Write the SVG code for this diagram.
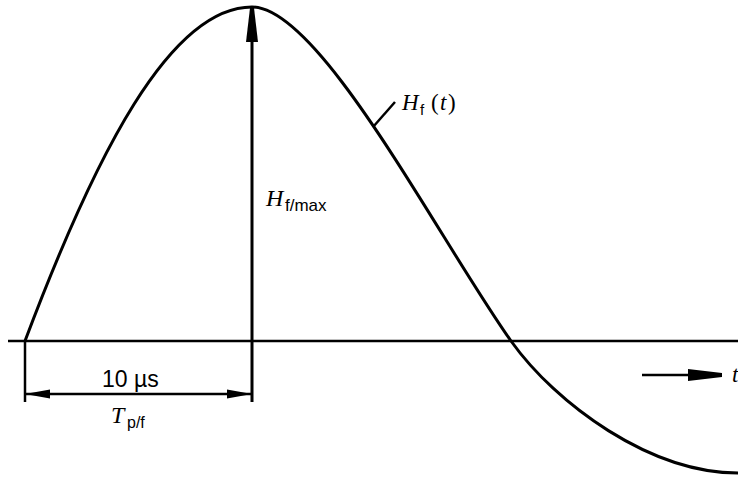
<svg xmlns="http://www.w3.org/2000/svg" width="738" height="480" viewBox="0 0 738 480">
<style>
  .ln { fill: none; stroke: #000; stroke-linecap: butt; }
  .it { font-family: "Liberation Serif", "Times New Roman", serif; font-style: italic; fill: #000; }
  .rm { font-family: "Liberation Serif", "Times New Roman", serif; fill: #000; }
  .sb { font-family: "Liberation Sans", Arial, sans-serif; fill: #000; }
</style>
<defs>
  <marker id="ah" markerUnits="userSpaceOnUse" markerWidth="26" markerHeight="12" refX="25" refY="6" orient="auto-start-reverse">
    <path d="M0,1.5 L25,6 L0,10.5 Z" fill="#000"/>
  </marker>
  <marker id="ah2" markerUnits="userSpaceOnUse" markerWidth="36" markerHeight="14" refX="34" refY="7" orient="auto">
    <path d="M0,1 L34,5 L34,9 L0,13 Z" fill="#000"/>
  </marker>
</defs>
<rect width="738" height="480" fill="#fff"/>
<g id="axis">
  <line class="ln" x1="8" y1="341" x2="738" y2="341" stroke-width="2.5"/>
</g>
<g id="curve">
  <path class="ln" stroke-width="3" d="M25,341 C95,155 170,7 252,7 C320,7 438,238 511,341 C556,404 650,473 738,473"/>
</g>
<g id="connectors">
  <line class="ln" x1="252" y1="402" x2="252" y2="8" stroke-width="3" marker-end="url(#ah2)"/>
  <line class="ln" x1="25" y1="341" x2="25" y2="402" stroke-width="2.5"/>
  <line class="ln" x1="25" y1="394" x2="252" y2="394" stroke-width="2.5" marker-start="url(#ah)" marker-end="url(#ah)"/>
  <line class="ln" x1="642" y1="375" x2="722" y2="375" stroke-width="2.5" marker-end="url(#ah2)"/>
  <line class="ln" x1="373" y1="127" x2="395" y2="102" stroke-width="2.5"/>
</g>
<g id="label-hft">
  <text x="402" y="110" class="it" font-size="23">H</text>
  <text x="420" y="115" class="sb" font-size="15">f</text>
  <text x="431" y="110" class="rm" font-size="23">(</text>
  <text x="440" y="110" class="it" font-size="23">t</text>
  <text x="448" y="110" class="rm" font-size="23">)</text>
</g>
<g id="label-hfmax">
  <text x="266" y="206" class="it" font-size="24">H</text>
  <text x="285" y="211" class="sb" font-size="17">f/max</text>
</g>
<g id="label-10us">
  <text x="102" y="387" class="sb" font-size="23">10 µs</text>
</g>
<g id="label-tpf">
  <text x="111" y="423" class="it" font-size="24">T</text>
  <text x="127" y="428" class="sb" font-size="16">p/f</text>
</g>
<g id="label-t">
  <text x="732" y="382" class="it" font-size="23">t</text>
</g>
</svg>
